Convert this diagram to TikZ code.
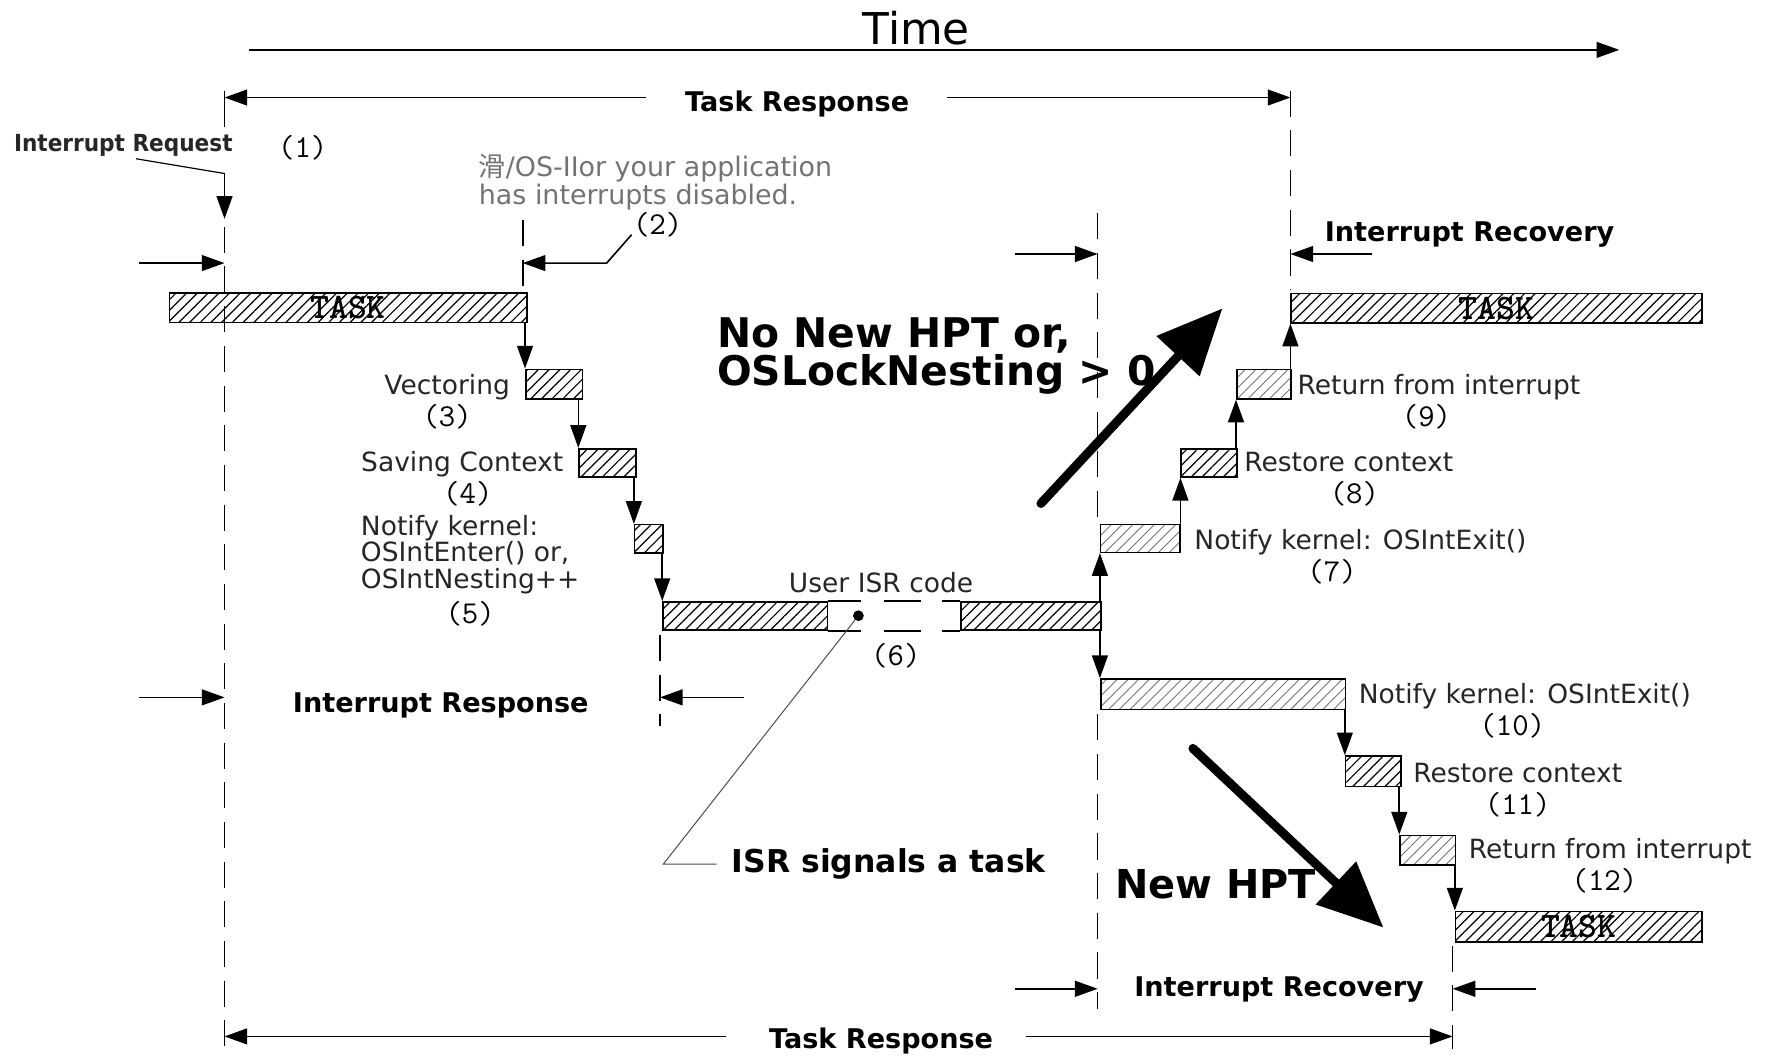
\documentclass[tikz,border=0pt]{standalone}
\usepackage{fontspec}
\setmainfont{DejaVu Sans}
\newfontfamily\cjkfont{Noto Sans CJK SC}
\newfontfamily\reqfont[FakeStretch=0.92]{DejaVu Sans}
\usetikzlibrary{arrows.meta,patterns.meta,positioning}

\tikzset{
  bar/.style={draw, line width=0.8pt, inner sep=0pt, anchor=north west,
    pattern={Lines[angle=45,distance=3.8pt,line width=0.6pt]}},
  lightbar/.style={bar, pattern={Lines[angle=45,distance=3.8pt,line width=0.45pt]},
    pattern color=black!55},
  boxsize/.style 2 args={minimum width=#1*0.02cm, minimum height=#2*0.02cm},
  lbl/.style={inner sep=0pt, text=black!85, text height=9.7pt, text depth=3.2pt,
    font=\fontsize{13.3}{13.3}\selectfont},
  note/.style={inner sep=0pt, text=black!55, align=left,
    font=\fontsize{13.5}{12.5}\selectfont},
  num/.style={inner sep=0pt, font=\ttfamily\fontsize{16}{16}\selectfont},
  head/.style={inner sep=0pt, font=\bfseries\fontsize{13.6}{15}\selectfont},
  big/.style={inner sep=0pt, align=left, font=\bfseries\fontsize{20.5}{19.3}\selectfont},
  dim/.style={line width=0.8pt, -{Triangle[length=0.4cm,width=0.28cm]}},
  guide/.style={line width=0.8pt, dash pattern=on 0.46cm off 0.24cm},
  bigarrow/.style={line width=4.5pt, line cap=round, -{Triangle[length=1.15cm,width=1cm]}},
  leader/.style={line width=0.5pt, black!70},
}
\newcommand{\tasklbl}{{\ttfamily\bfseries\fontsize{18}{18}\selectfont TASK}}

\begin{document}
\begin{tikzpicture}[x=0.02cm,y=-0.02cm]
\useasboundingbox (0,0) rectangle (1568,933);

%% time axis
\node[inner sep=0pt, font=\fontsize{22}{22}\selectfont] (time) at (808,25) {Time};
\coordinate (t0) at (220,44);
\coordinate (t1) at (1428,44);
\draw[dim] (t0) -- (t1);

%% bars
\node[bar, boxsize={315}{26}] (task1) at (149,258) {\tasklbl};
\node[bar, boxsize={50}{26}] (vec) at (463,325) {};
\node[bar, boxsize={50}{25}] (save) at (510,395) {};
\node[bar, boxsize={25}{25}] (enter) at (559,462) {};
\node[bar, boxsize={145}{25}] (isrA) at (584,530) {};
\node[bar, boxsize={123}{25}] (isrB) at (847,530) {};
\node[lightbar, boxsize={70}{25}] (exit7) at (970,462) {};
\node[bar, boxsize={49}{25}] (rest8) at (1041,395) {};
\node[lightbar, boxsize={48}{26}] (ret9) at (1090,325) {};
\node[bar, boxsize={362}{26}] (task2) at (1138,258) {\tasklbl};
\node[lightbar, boxsize={216}{27}] (exit10) at (970,598) {};
\node[bar, boxsize={49}{27}] (rest11) at (1186,666) {};
\node[lightbar, boxsize={49}{26}] (ret12) at (1234,736) {};
\node[bar, boxsize={217}{27}] (task3) at (1283,803) {\tasklbl};

% gap in the ISR code
\draw[line width=0.8pt] (isrA.north east) -- ++(29,0) ++(20,0) -- ++(33,0) ++(18,0) -- (isrB.north west);
\draw[line width=0.8pt] (isrA.south east) -- ++(29,0) ++(20,0) -- ++(33,0) ++(18,0) -- (isrB.south west);
\node[circle, fill, inner sep=0pt, minimum size=0.19cm] (sig) at (757,543) {};

%% flow
\draw[dim] (vec.north west |- task1.south) -- (vec.north west);
\draw[dim] (save.north west |- vec.south) -- (save.north west);
\draw[dim] (enter.north west |- save.south) -- (enter.north west);
\draw[dim] (isrA.north west |- enter.south) -- (isrA.north west);
\draw[dim] (exit7.south west |- isrB.north) -- (exit7.south west);
\draw[dim] (rest8.south west |- exit7.north) -- (rest8.south west);
\draw[dim] (ret9.south west |- rest8.north) -- (ret9.south west);
\draw[dim] (task2.south west |- ret9.north) -- (task2.south west);
\draw[dim] (exit10.north west |- isrB.south) -- (exit10.north west);
\draw[dim] (rest11.north west |- exit10.south) -- (rest11.north west);
\draw[dim] (ret12.north west |- rest11.south) -- (ret12.north west);
\draw[dim] (task3.north west |- ret12.south) -- (task3.north west);

%% step labels
\node[lbl, anchor=east] (vecL) at (450,342) {Vectoring};
\node[num, below=0.05cm of vecL] (n3) {(3)};
\node[lbl, anchor=east] (saveL) at (497,410) {Saving Context};
\node[num, below=0.05cm of saveL, xshift=0.1cm] (n4) {(4)};
\node[lbl, text height=, text depth=, anchor=north west, align=left] (enterL) at (318,454) {Notify kernel:\\OSIntEnter() or,\\OSIntNesting++};
\node[num, below=0.12cm of enterL] (n5) {(5)};
\node[lbl] (isrL) at (777,517) {User ISR code};
\node[num] (n6) at (790,578) {(6)};
\node[lbl, anchor=west] (exit7L) at (1053,479) {Notify kernel: OSIntExit()};
\node[num, below=0.05cm of exit7L, xshift=-0.5cm] (n7) {(7)};
\node[lbl, anchor=west] (rest8L) at (1097,410) {Restore context};
\node[num, below=0.05cm of rest8L, xshift=0.1cm] (n8) {(8)};
\node[lbl, anchor=west] (ret9L) at (1144,342) {Return from interrupt};
\node[num, below=0.05cm of ret9L, xshift=-0.22cm] (n9) {(9)};
\node[lbl, anchor=west] (exit10L) at (1198,615) {Notify kernel: OSIntExit()};
\node[num, below=0.05cm of exit10L, xshift=-0.22cm] (n10) {(10)};
\node[lbl, anchor=west] (rest11L) at (1246,684) {Restore context};
\node[num, below=0.05cm of rest11L] (n11) {(11)};
\node[lbl, anchor=west] (ret12L) at (1295,751) {Return from interrupt};
\node[num, below=0.05cm of ret12L, xshift=-0.1cm] (n12) {(12)};

%% interrupt request
\node[inner sep=0pt, text=black!85, anchor=west, font=\reqfont\bfseries\fontsize{11.8}{12}\selectfont] (irq) at (12,128) {Interrupt Request};
\node[num] (n1) at (267,130) {(1)};
\coordinate (irqA) at (120,140);
\coordinate (irqB) at (198,153);
\coordinate (irqC) at (198,193);
\draw[line width=0.6pt] (irqA) -- (irqB);
\draw[dim] (irqB) -- (irqC);

\node[note, anchor=west] (note2) at (422,161) {{\cjkfont 滑}/OS-IIor your application\\has interrupts disabled.};
\node[num] (n2) at (580,198) {(2)};

%% guides
\draw[line width=0.8pt] (198,80) -- (198,112);
\draw[guide] (198,200) -- (198,925);
\draw[guide] (461,194) -- (461,256);
\draw[guide] (582,560) -- (582,640);
\draw[guide] (968,188) -- (968,460);
\draw[guide] (968,630) -- (968,890);
\draw[guide] (1138,80) -- (1138,256);
\draw[guide] (1281,834) -- (1281,925);

%% response and recovery
\coordinate (reqL) at (123,232); \coordinate (reqR) at (198,232);
\draw[dim] (reqL) -- (reqR);
\coordinate (disA) at (557,207); \coordinate (disB) at (535,232); \coordinate (disC) at (461,232);
\draw[dim] (disA) -- (disB) -- (disC);

\node[head, anchor=west] (respL) at (258,622) {Interrupt Response};
\coordinate (respA) at (123,615); \coordinate (respB) at (198,615);
\coordinate (respC) at (656,615); \coordinate (respD) at (582,615);
\draw[dim] (respA) -- (respB);
\draw[dim] (respC) -- (respD);

\node[head, anchor=west] (recTop) at (1168,207) {Interrupt Recovery};
\coordinate (recTopA) at (895,224); \coordinate (recTopB) at (968,224);
\coordinate (recTopC) at (1210,224); \coordinate (recTopD) at (1138,224);
\draw[dim] (recTopA) -- (recTopB);
\draw[dim] (recTopC) -- (recTopD);

\node[head, anchor=west] (recBot) at (1000,873) {Interrupt Recovery};
\coordinate (recBotA) at (895,872); \coordinate (recBotB) at (968,872);
\coordinate (recBotC) at (1355,872); \coordinate (recBotD) at (1281,872);
\draw[dim] (recBotA) -- (recBotB);
\draw[dim] (recBotC) -- (recBotD);

%% task response
\node[head] (trTop) at (703,92) {Task Response};
\coordinate (trTopA) at (570,86); \coordinate (trTopB) at (198,86);
\coordinate (trTopC) at (835,86); \coordinate (trTopD) at (1138,86);
\draw[dim] (trTopA) -- (trTopB);
\draw[dim] (trTopC) -- (trTopD);

\node[head] (trBot) at (777,918) {Task Response};
\coordinate (trBotA) at (640,914); \coordinate (trBotB) at (198,914);
\coordinate (trBotC) at (905,914); \coordinate (trBotD) at (1281,914);
\draw[dim] (trBotA) -- (trBotB);
\draw[dim] (trBotC) -- (trBotD);

%% ISR signals a task
\node[head, anchor=west, font=\bfseries\fontsize{15.8}{16}\selectfont] (sigL) at (645,762) {ISR signals a task};
\coordinate (sigA) at (585,762); \coordinate (sigB) at (632,762);
\draw[leader] (sig) -- (sigA) -- (sigB);

%% the two outcomes
\node[big, anchor=west] (noHPT) at (632,314) {No New HPT or,\\OSLockNesting > 0};
\coordinate (upA) at (918,444); \coordinate (upB) at (1078,272);
\draw[bigarrow] (upA) -- (upB);

\node[big, anchor=west, font=\bfseries\fontsize{20}{20}\selectfont] (newHPT) at (983,780) {New HPT};
\coordinate (dnA) at (1052,660); \coordinate (dnB) at (1220,818);
\draw[bigarrow] (dnA) -- (dnB);

\end{tikzpicture}
\end{document}
